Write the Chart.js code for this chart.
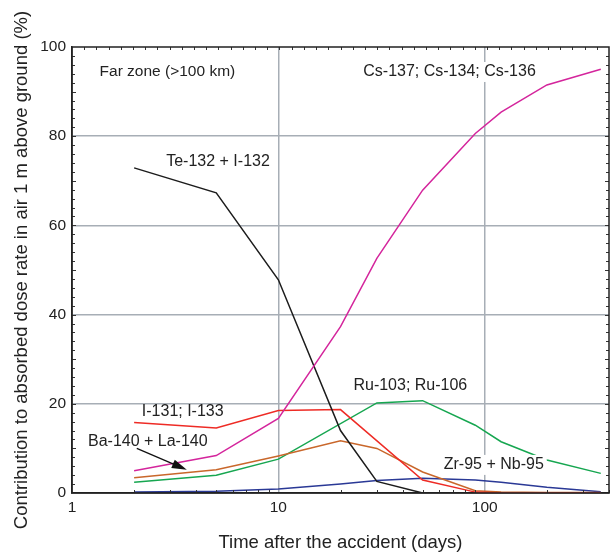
<!DOCTYPE html>
<html>
<head>
<meta charset="utf-8">
<script src="https://cdn.jsdelivr.net/npm/chart.js@4/dist/chart.umd.min.js"></script>
<style>
    body { margin: 0; background: #fff; }
    #wrap { width: 613px; height: 558px; position: relative; }
</style>
</head>
<body>
<div id="wrap"><canvas id="doseChart"></canvas></div>
<script>
// sampling times (days after the accident)
const days = [2, 5, 10, 20, 30, 50, 90, 120, 200, 365];

// contribution to dose rate (%); null = no vertex there
const csValues = [5.0, 8.4, 16.7, 37.3, 52.6, 67.9, 80.6, 85.4, 91.5, 95.0];
const teValues = [72.9, 67.3, 47.8, 14.0, 2.6, 0, null, null, null, null];
const iodineValues = [15.8, 14.6, 18.5, 18.7, null, 2.9, 0.2, 0, 0, 0];
const baValues = [3.4, 5.2, 8.3, 11.7, 10.0, 4.7, 0.5, 0.2, 0.1, 0.1];
const ruValues = [2.4, 4.0, 7.6, null, 20.2, 20.7, 15.2, 11.5, 7.4, 4.4];
const zrValues = [0.2, 0.4, 0.9, 2.0, 2.8, 3.3, 2.9, 2.4, 1.3, 0.3];

const xTickValues = [1, 10, 100];
const xMinorTicks = [2, 3, 4, 5, 6, 7, 8, 9, 20, 30, 40, 50, 60, 70, 80, 90, 200, 300, 400];

// text labels inside the plot
const noteTexts = ['Far zone (>100 km)', 'Cs-137; Cs-134; Cs-136', 'Te-132 + I-132', 'Ru-103; Ru-106', 'I-131; I-133', 'Ba-140 + La-140', 'Zr-95 + Nb-95'];
const noteDays = [1.36, 67.5, 5.1, 43.6, 3.44, 2.33, 110.6];
const noteLevels = [94.4, 94.4, 74.3, 24.1, 18.2, 11.5, 6.3];
const noteAlign = ['left', 'center', 'center', 'center', 'center', 'center', 'center'];
const noteBoxed = [false, true, false, false, false, false, true];

// arrow from the Ba-140 label to its curve
const arrowDays = [2.06, 3.6];
const arrowLevels = [10.0, 5.2];

const series = [
    { data: csValues, color: '#d4259c' },
    { data: teValues, color: '#1c1c1c' },
    { data: iodineValues, color: '#ee2b25' },
    { data: baValues, color: '#c9672b' },
    { data: ruValues, color: '#16a650' },
    { data: zrValues, color: '#2a3996' }
];

const textColor = '#222';
const gridColor = '#a7aeb6';
const fontFamily = '"Liberation Sans", Arial, Helvetica, sans-serif';

const frameAndNotes = {
    id: 'frameAndNotes',
    afterDatasetsDraw(chart) {
        const { ctx, chartArea: a, scales } = chart;
        const x = scales.x, y = scales.y, top = scales.xTop;
        ctx.save();

        // labels
        ctx.textBaseline = 'middle';
        noteTexts.forEach((t, i) => {
            ctx.font = (i === 0 ? '15.5px ' : '16px ') + fontFamily;
            const px = x.getPixelForValue(noteDays[i]);
            const py = y.getPixelForValue(noteLevels[i]);
            const w = ctx.measureText(t).width;
            const left = noteAlign[i] === 'left' ? px : px - w / 2;
            if (noteBoxed[i]) {
                ctx.fillStyle = '#fff';
                ctx.fillRect(left - 3, py - 10, w + 6, 20);
            }
            ctx.fillStyle = textColor;
            ctx.textAlign = 'left';
            ctx.fillText(t, left, py);
        });

        // arrow
        const x1 = x.getPixelForValue(arrowDays[0]), y1 = y.getPixelForValue(arrowLevels[0]);
        const x2 = x.getPixelForValue(arrowDays[1]), y2 = y.getPixelForValue(arrowLevels[1]);
        const ang = Math.atan2(y2 - y1, x2 - x1);
        ctx.strokeStyle = '#111';
        ctx.fillStyle = '#111';
        ctx.lineWidth = 1.3;
        ctx.beginPath();
        ctx.moveTo(x1, y1);
        ctx.lineTo(x2 - 10 * Math.cos(ang), y2 - 10 * Math.sin(ang));
        ctx.stroke();
        ctx.beginPath();
        ctx.moveTo(x2, y2);
        ctx.lineTo(x2 - 15 * Math.cos(ang) + 4.5 * Math.sin(ang), y2 - 15 * Math.sin(ang) - 4.5 * Math.cos(ang));
        ctx.lineTo(x2 - 15 * Math.cos(ang) - 4.5 * Math.sin(ang), y2 - 15 * Math.sin(ang) + 4.5 * Math.cos(ang));
        ctx.closePath();
        ctx.fill();

        // inward minor ticks
        ctx.strokeStyle = '#333';
        ctx.lineWidth = 1;
        ctx.beginPath();
        for (let v = 2; v < 100; v += 2) {
            const py = Math.round(y.getPixelForValue(v)) + 0.5;
            const len = v % 10 === 0 ? 4 : 3;
            ctx.moveTo(a.left, py); ctx.lineTo(a.left + len, py);
            ctx.moveTo(a.right, py); ctx.lineTo(a.right - len, py);
        }
        xMinorTicks.forEach(v => {
            const px = Math.round(x.getPixelForValue(v)) + 0.5;
            ctx.moveTo(px, a.bottom); ctx.lineTo(px, a.bottom - 3);
        });
        for (let v = 1; v < 44; v++) {
            const px = Math.round(top.getPixelForValue(v)) + 0.5;
            ctx.moveTo(px, a.top); ctx.lineTo(px, a.top + 3);
        }
        ctx.stroke();

        // frame
        ctx.strokeStyle = '#222';
        ctx.lineWidth = 1.5;
        ctx.strokeRect(a.left, a.top, a.right - a.left, a.bottom - a.top);
        ctx.restore();
    }
};

new Chart(document.getElementById('doseChart'), {
    type: 'line',
    data: {
        datasets: series.map(s => ({
            data: days.map((d, i) => ({ x: d, y: s.data[i] })),
            borderColor: s.color,
            borderWidth: 1.5,
            pointRadius: 0,
            tension: 0,
            spanGaps: true
        }))
    },
    options: {
        responsive: true,
        maintainAspectRatio: false,
        animation: false,
        layout: { padding: { top: 47, right: 4, left: 0, bottom: 0 } },
        plugins: {
            legend: { display: false },
            tooltip: { enabled: false }
        },
        scales: {
            x: {
                type: 'logarithmic',
                min: 1,
                max: 400,
                afterBuildTicks: s => { s.ticks = xTickValues.map(v => ({ value: v })); },
                afterFit: s => { s.height = 65; },
                ticks: {
                    callback: v => String(v),
                    color: textColor,
                    font: { family: fontFamily, size: 15.5 },
                    padding: 5,
                    maxRotation: 0,
                    autoSkip: false
                },
                grid: {
                    color: c => (c.tick && c.tick.value === 1) ? 'rgba(0,0,0,0)' : gridColor,
                    lineWidth: 1.5,
                    drawTicks: false
                },
                border: { color: '#222', width: 1.5 },
                title: {
                    display: true,
                    text: 'Time after the accident (days)',
                    color: textColor,
                    font: { family: fontFamily, size: 18.5 },
                    padding: { top: 0, bottom: 4 }
                }
            },
            xTop: {
                type: 'linear',
                position: 'top',
                display: false,
                min: 0,
                max: 44
            },
            y: {
                min: 0,
                max: 100,
                afterFit: s => { s.width = 72; },
                ticks: {
                    stepSize: 20,
                    color: textColor,
                    font: { family: fontFamily, size: 15.5 },
                    padding: 6
                },
                grid: {
                    color: c => (c.tick && (c.tick.value === 0 || c.tick.value === 100)) ? 'rgba(0,0,0,0)' : gridColor,
                    lineWidth: 1.5,
                    drawTicks: false
                },
                border: { color: '#222', width: 1.5 },
                title: {
                    display: true,
                    text: 'Contribution to absorbed dose rate in air 1 m above ground (%)',
                    color: textColor,
                    font: { family: fontFamily, size: 18.5 },
                    padding: { top: 11, bottom: 0 }
                }
            }
        }
    },
    plugins: [frameAndNotes]
});
</script>
</body>
</html>
